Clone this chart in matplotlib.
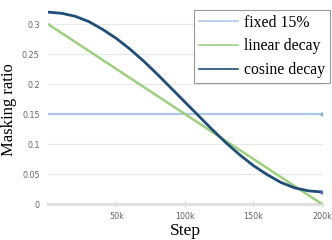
import matplotlib
matplotlib.use("Agg")
import matplotlib.pyplot as plt

steps = [0, 10000, 20000, 30000, 40000, 50000, 60000, 70000, 80000, 90000, 100000,
         110000, 120000, 130000, 140000, 150000, 160000, 170000, 180000, 190000, 200000]
fixed = [0.15] * len(steps)
linear = [0.30, 0.285, 0.27, 0.255, 0.24, 0.225, 0.21, 0.195, 0.18, 0.165, 0.15,
          0.135, 0.12, 0.105, 0.09, 0.075, 0.06, 0.045, 0.03, 0.015, 0.0]
cosine = [0.32, 0.318, 0.313, 0.304, 0.291, 0.276, 0.258, 0.238, 0.216, 0.193, 0.17,
          0.147, 0.124, 0.102, 0.082, 0.064, 0.049, 0.036, 0.027, 0.022, 0.02]
xticks = [50000, 100000, 150000, 200000]
xticklabels = ["50k", "100k", "150k", "200k"]
yticks = [0, 0.05, 0.1, 0.15, 0.2, 0.25, 0.3]
yticklabels = ["0", "0.05", "0.1", "0.15", "0.2", "0.25", "0.3"]

fig = plt.figure(figsize=(3.32, 2.40), dpi=100)
ax = fig.add_axes([0.1446, 0.15, 0.825, 0.817])

c_fixed = "#aec7e8"
c_lin = "#9dd17e"
c_cos = "#1f4e79"

ax.plot(steps, fixed, color=c_fixed, lw=1.6, label="fixed 15%", zorder=3)
ax.plot(steps, linear, color=c_lin, lw=1.8, label="linear decay", zorder=4)
ax.plot(steps, cosine, color=c_cos, lw=2.0, label="cosine decay", zorder=5)
ax.plot([steps[-1]], [fixed[-1]], 'o', color="#7fb0d8", ms=2, zorder=6)
ax.plot([steps[-1]], [cosine[-1]], 'o', color="#5a5af0", ms=2, zorder=6)

ax.set_xlim(0, 200000)
ax.set_ylim(0, 0.327)
ax.set_xticks(xticks)
ax.set_xticklabels(xticklabels)
ax.set_yticks(yticks)
ax.set_yticklabels(yticklabels)
ax.yaxis.grid(True, color="#e8e8e8", lw=0.8)
ax.set_axisbelow(True)
for s in ["top", "right", "left"]:
    ax.spines[s].set_visible(False)
ax.spines["bottom"].set_color("#e0e0e0")
ax.spines["bottom"].set_linewidth(2.2)
ax.tick_params(axis="y", length=0, labelsize=5.8, labelcolor="#666666", pad=6)
ax.tick_params(axis="x", direction="inout", length=5, width=0.6, color="#cccccc",
               labelsize=5.8, labelcolor="#666666", pad=3)

serif = ["Liberation Serif", "DejaVu Serif"]
ax.set_xlabel("Step", family=serif, fontsize=12.5)
ax.xaxis.set_label_coords(0.5, -0.095)
ax.set_ylabel("Masking ratio", family=serif, fontsize=12)
ax.yaxis.set_label_coords(-0.113, 0.48)

leg = ax.legend(loc="upper right", bbox_to_anchor=(1.029, 0.99), prop={"family": serif, "size": 11.3},
                frameon=True, fancybox=False, edgecolor="#999999", framealpha=1,
                handlelength=2.5, handletextpad=0.4, labelspacing=0.5, borderpad=0.3,
                borderaxespad=0.0)
leg.get_frame().set_linewidth(0.8)
for line in leg.get_lines():
    line.set_linewidth(1.2)

fig.savefig("out.png", dpi=100)
